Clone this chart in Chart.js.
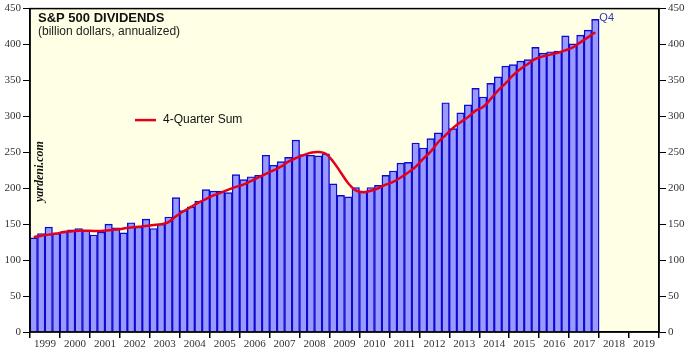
<!DOCTYPE html>
<html><head><meta charset="utf-8">
<script src="https://cdn.jsdelivr.net/npm/chart.js@4"></script>
<style>html,body{margin:0;padding:0;background:#fff}#wrap{width:691px;height:354px;position:relative}</style>
</head><body><div id="wrap"><canvas id="c"></canvas></div>
<script>
const quarterLabels = [
 '1999Q1','1999Q2','1999Q3','1999Q4','2000Q1','2000Q2','2000Q3','2000Q4',
 '2001Q1','2001Q2','2001Q3','2001Q4','2002Q1','2002Q2','2002Q3','2002Q4',
 '2003Q1','2003Q2','2003Q3','2003Q4','2004Q1','2004Q2','2004Q3','2004Q4',
 '2005Q1','2005Q2','2005Q3','2005Q4','2006Q1','2006Q2','2006Q3','2006Q4',
 '2007Q1','2007Q2','2007Q3','2007Q4','2008Q1','2008Q2','2008Q3','2008Q4',
 '2009Q1','2009Q2','2009Q3','2009Q4','2010Q1','2010Q2','2010Q3','2010Q4',
 '2011Q1','2011Q2','2011Q3','2011Q4','2012Q1','2012Q2','2012Q3','2012Q4',
 '2013Q1','2013Q2','2013Q3','2013Q4','2014Q1','2014Q2','2014Q3','2014Q4',
 '2015Q1','2015Q2','2015Q3','2015Q4','2016Q1','2016Q2','2016Q3','2016Q4',
 '2017Q1','2017Q2','2017Q3','2017Q4'
];
const dividends = [
 131,137,146,137, 139,142,144,141, 135,139,150,145, 138,152,146,157,
 144,150,160,187, 169,174,182,198, 196,196,194,219, 212,216,218,246,
 232,237,243,267, 247,246,245,248, 206,190,188,201, 196,201,204,218,
 224,235,236,263, 256,269,277,319, 283,305,316,339, 327,346,355,370,
 372,377,379,396, 388,390,391,412, 401,413,420,435
];
const fourQuarterSum = [
 132,134,135.5,137, 139,140,141,141, 140.5,140.5,141.5,142.5, 144,145.5,146.5,147.5,
 149,150,153,161, 168,174,180,185, 190,194,198,202, 205,210,215,220,
 225,230,237,242, 246,249.5,250.5,248, 237,222,207,197, 194.5,196.5,200,205,
 209,215,222,230, 241,251,264,274, 284,292,299,308, 313,324,336,346,
 357,366,373,380, 383.5,386,388.5,392, 396,403,410,417
];
const yearTicks = [1999,2000,2001,2002,2003,2004,2005,2006,2007,2008,2009,2010,2011,2012,2013,2014,2015,2016,2017,2018,2019];
const yAxisTicks = [0,50,100,150,200,250,300,350,400,450];
const titleText = 'S&P 500 DIVIDENDS';
const subtitleText = '(billion dollars, annualized)';
const legendLabel = '4-Quarter Sum';
const sourceText = 'yardeni.com';
const lastLabel = 'Q4';

function quarterPos(label){ const y = +label.slice(0,4), q = +label.slice(5); return y + (q-1)/4 + 0.125; }
const xMin = yearTicks[0], xMax = yearTicks[yearTicks.length-1] + 1;

const barData = quarterLabels.map((l,i)=>({x:quarterPos(l), y:dividends[i]}));
const lineData = quarterLabels.map((l,i)=>({x:quarterPos(l), y:fourQuarterSum[i]}));

const serif = "'Liberation Serif','Times New Roman',serif";
const sans = "'Liberation Sans',Arial,sans-serif";

const deco = {
  id:'deco',
  beforeDraw(chart){
    const {ctx, chartArea:a} = chart;
    ctx.save();
    ctx.fillStyle = '#ffffff'; ctx.fillRect(0,0,chart.width,chart.height);
    ctx.fillStyle = '#ffffe6'; ctx.fillRect(a.left,a.top,a.right-a.left,a.bottom-a.top);
    ctx.restore();
  },
  afterDatasetsDraw(chart){
    const {ctx, chartArea:a, scales} = chart;
    ctx.save();
    ctx.strokeStyle = '#000'; ctx.lineWidth = 1.5;
    ctx.strokeRect(a.left, a.top, a.right-a.left, a.bottom-a.top);
    ctx.fillStyle = '#111';
    ctx.textBaseline = 'middle'; ctx.textAlign = 'left';
    ctx.font = 'bold 13px ' + sans;
    ctx.fillText(titleText, a.left + 8, a.top + 10);
    ctx.font = '12px ' + sans;
    ctx.fillStyle = '#222';
    ctx.fillText(subtitleText, a.left + 8, a.top + 23);
    const ly = a.top + 111.5;
    ctx.strokeStyle = chart.data.datasets[0].borderColor; ctx.lineWidth = 2.5;
    ctx.beginPath(); ctx.moveTo(a.left + 105, ly); ctx.lineTo(a.left + 126, ly); ctx.stroke();
    ctx.fillStyle = '#111'; ctx.font = '12px ' + sans;
    ctx.fillText(chart.data.datasets[0].label, a.left + 133, ly);
    ctx.save();
    ctx.translate(a.left + 10, a.top + 163);
    ctx.rotate(-Math.PI/2);
    ctx.textAlign = 'center';
    ctx.font = 'italic bold 12px ' + serif;
    ctx.fillStyle = '#111';
    ctx.fillText(sourceText, 0, 0);
    ctx.restore();
    const xs = scales.x, ys = scales.y;
    const last = barData[barData.length-1];
    const halfBar = (xs.getPixelForValue(0.25) - xs.getPixelForValue(0)) / 2;
    ctx.font = '11px ' + sans;
    ctx.fillStyle = '#3333bb';
    ctx.textAlign = 'left';
    ctx.fillText(lastLabel, xs.getPixelForValue(last.x) + halfBar + 4, ys.getPixelForValue(last.y) - 1);
    ctx.restore();
  }
};

const yTickFont = {family: serif, size: 11};
function yAxis(pos, width){
  return {
    type:'linear', position:pos, min:0, max:450,
    afterBuildTicks(s){ s.ticks = yAxisTicks.map(v=>({value:v})); },
    afterFit(s){ s.width = width; },
    ticks:{ font:yTickFont, color:'#333', padding:2 },
    grid:{ drawOnChartArea:false, drawTicks:true, tickLength:7, color:'#000', lineWidth:1 },
    border:{ display:true, color:'#000', width:1.5 }
  };
}

new Chart(document.getElementById('c'), {
  data:{
    datasets:[
      { type:'line', label:legendLabel, data:lineData, borderColor:'#e3001b', borderWidth:2.5,
        pointRadius:0, tension:0.4, order:0, fill:false },
      { type:'bar', label:'Dividends', data:barData, backgroundColor:'#9999ff', borderColor:'#0a0ad0',
        borderWidth:1.4, barPercentage:1, categoryPercentage:1, order:1 }
    ]
  },
  options:{
    responsive:true, maintainAspectRatio:false, animation:false,
    layout:{ padding:{ top:6, left:0, right:0, bottom:0 } },
    plugins:{ legend:{display:false}, tooltip:{enabled:false}, title:{display:false} },
    scales:{
      x:{
        type:'linear', min:xMin, max:xMax, offset:false,
        afterBuildTicks(s){ s.ticks = yearTicks.concat([xMax]).map(v=>({value:v})); },
        afterFit(s){ s.height = 22; },
        ticks:{ font:yTickFont, color:'#333', padding:0, maxRotation:0, autoSkip:false,
          labelOffset: 15,
          callback:(v)=> yearTicks.includes(v) ? String(v) : '' },
        grid:{ offset:false, drawOnChartArea:false, drawTicks:true, tickLength:6, color:'#000', lineWidth:1.5 },
        border:{ display:true, color:'#000', width:1.5 }
      },
      y: yAxis('left', 30),
      y2: yAxis('right', 32)
    }
  },
  plugins:[deco]
});
</script>
</body></html>
